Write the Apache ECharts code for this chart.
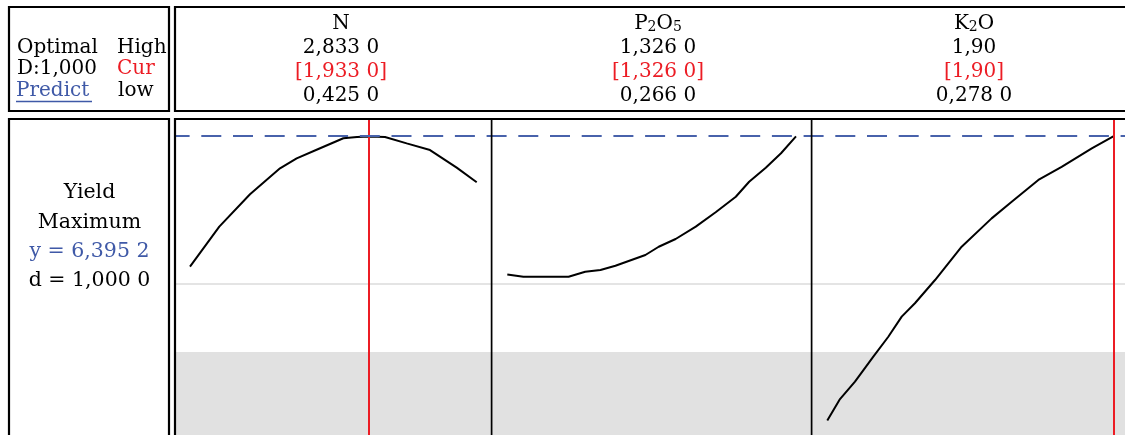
<!DOCTYPE html>
<html>
<head>
<meta charset="utf-8">
<script src="https://cdn.jsdelivr.net/npm/echarts@6/dist/echarts.min.js"></script>
<style>
  html, body { margin: 0; padding: 0; background: #ffffff; }
  #chart { width: 1125px; height: 435px; }
</style>
</head>
<body>
<div id="chart"></div>
<script>
// Factor settings of the response optimizer
const factors = ['N', 'P2O5', 'K2O'];
const lowValues = [0.425, 0.266, 0.278];
const highValues = [2.833, 1.326, 1.90];
const currentValues = [1.933, 1.326, 1.90];
const highLabels = ['2,833 0', '1,326 0', '1,90'];
const currentLabels = ['[1,933 0]', '[1,326 0]', '[1,90]'];
const lowLabels = ['0,425 0', '0,266 0', '0,278 0'];

// Response summary
const predictedYield = 6.3952;
const desirability = 1.0;
const yieldRange = [4.7, 6.5];
const referenceLevel = 5.557;
const shadedTop = 5.171;

// Predicted Yield traced across each factor range
const nCurve = [
  [0.425, 5.656], [0.671, 5.883], [0.929, 6.067], [1.181, 6.214],
  [1.321, 6.271], [1.503, 6.324], [1.713, 6.385], [1.828, 6.392],
  [1.933, 6.3952], [2.063, 6.392], [2.245, 6.356], [2.441, 6.318],
  [2.665, 6.218], [2.833, 6.135]
];
const p2o5Curve = [
  [0.266, 5.612], [0.325, 5.599], [0.491, 5.599], [0.552, 5.627],
  [0.608, 5.637], [0.663, 5.661], [0.773, 5.722], [0.822, 5.769],
  [0.884, 5.813], [0.958, 5.883], [1.031, 5.965], [1.105, 6.053],
  [1.154, 6.138], [1.215, 6.218], [1.271, 6.300], [1.326, 6.3952]
];
const k2oCurve = [
  [0.278, 4.782], [0.350, 4.904], [0.435, 5.003], [0.539, 5.145],
  [0.624, 5.258], [0.700, 5.372], [0.775, 5.448], [0.889, 5.580],
  [1.040, 5.769], [1.210, 5.930], [1.324, 6.025], [1.475, 6.148],
  [1.607, 6.223], [1.778, 6.328], [1.900, 6.3952]
];
const curves = [nCurve, p2o5Curve, k2oCurve];

const BLUE = '#3f59a7';
const RED = '#ec1c24';
const BLACK = '#000000';
const SERIF = '"DejaVu Serif", "Liberation Serif", serif';

// "6,395 2" style: decimal comma, digits grouped by three after it
function fmt(v, decimals) {
  const s = v.toFixed(decimals).replace('.', ',');
  const [intPart, dec] = s.split(',');
  let grouped = dec.slice(0, 3);
  if (dec.length > 3) grouped += ' ' + dec.slice(3);
  return intPart + ',' + grouped;
}

// chemical formula as rich text: digits become subscripts
function formula(name) {
  return name.replace(/(\d+)/g, '{s|$1}').replace(/(^|\})([^{}]+)(?=\{|$)/g, '$1{b|$2}');
}

const chart = echarts.init(document.getElementById('chart'), null, { renderer: 'canvas' });

const panelBoxes = [
  { left: 190, width: 286.7 },
  { left: 507.3, width: 288.7 },
  { left: 827.3, width: 286 }
];
const headerCenters = [341, 658, 974];

const grids = panelBoxes.map(p => ({ left: p.left, width: p.width, top: 118, bottom: 0 }));
grids.push({ left: 175, right: 0, top: 118, bottom: 0 });

const xAxes = panelBoxes.map((p, i) => ({
  type: 'value', gridIndex: i, min: lowValues[i], max: highValues[i], show: false
}));
xAxes.push({ type: 'value', gridIndex: 3, min: 0, max: 1, show: false });

const yAxes = grids.map((g, i) => ({
  type: 'value', gridIndex: i, min: yieldRange[0], max: yieldRange[1], show: false
}));

const series = [
  {
    // shaded band and light reference line behind the panels
    type: 'line', xAxisIndex: 3, yAxisIndex: 3, data: [], z: 0, silent: true,
    markArea: {
      silent: true, z: 0,
      itemStyle: { color: '#e1e1e1' },
      data: [[{ yAxis: yieldRange[0] }, { yAxis: shadedTop }]]
    },
    markLine: {
      silent: true, z: 1, symbol: ['none', 'none'], label: { show: false },
      lineStyle: { color: '#e4e4e4', width: 2, type: 'solid' },
      data: [{ yAxis: referenceLevel }]
    }
  },
  {
    // predicted optimum response
    type: 'line', xAxisIndex: 3, yAxisIndex: 3, data: [], z: 6, silent: true,
    markLine: {
      silent: true, z: 8, symbol: ['none', 'none'], label: { show: false },
      lineStyle: { color: '#4862ab', width: 2.2, type: [20, 11.7], dashOffset: 5.4 },
      data: [{ yAxis: predictedYield }]
    }
  }
];

curves.forEach((data, i) => {
  series.push({
    type: 'line', xAxisIndex: i, yAxisIndex: i, data,
    showSymbol: false, symbol: 'none', smooth: false, z: 3,
    lineStyle: { color: BLACK, width: 2 },
    markLine: {
      silent: true, z: 5, symbol: ['none', 'none'], label: { show: false },
      lineStyle: { color: RED, width: 2, type: 'solid' },
      data: [{ xAxis: currentValues[i] }]
    }
  });
});

function text(x, y, str, color, align, size) {
  return {
    type: 'text', x, y, z: 100, silent: true,
    style: {
      text: str, fill: color, fontSize: size, fontFamily: SERIF,
      align, verticalAlign: 'middle'
    }
  };
}
function box(x, y, w, h, lw) {
  return {
    type: 'rect', z: 100, silent: true,
    shape: { x, y, width: w, height: h },
    style: { fill: null, stroke: BLACK, lineWidth: lw }
  };
}
function vline(x, y1, y2, color, lw) {
  return {
    type: 'line', z: 100, silent: true,
    shape: { x1: x, y1, x2: x, y2 },
    style: { stroke: color, lineWidth: lw }
  };
}

const graphics = [
  box(9, 7, 160, 104, 2.2),
  box(175, 7, 980, 104, 2.2),
  box(9, 119, 160, 400, 2.2),
  box(175, 119, 980, 400, 2.2),
  vline(491.6, 119, 435, BLACK, 1.7),
  vline(811.6, 119, 435, BLACK, 1.7),

  text(17, 48, 'Optimal', BLACK, 'left', 20),
  text(117, 48, 'High', BLACK, 'left', 20),
  text(17, 69, 'D:' + desirability.toFixed(3).replace('.', ','), BLACK, 'left', 20),
  text(117, 69, 'Cur', RED, 'left', 20),
  text(16, 90.5, 'Predict', BLUE, 'left', 20),
  text(118, 90.5, 'low', BLACK, 'left', 20),
  {
    type: 'line', z: 100, silent: true,
    shape: { x1: 16, y1: 101.5, x2: 92, y2: 101.5 },
    style: { stroke: BLUE, lineWidth: 1.6 }
  },

  text(89.5, 193, 'Yield', BLACK, 'center', 20.5),
  text(89.5, 222.5, 'Maximum', BLACK, 'center', 20.5),
  text(89.5, 251.5, 'y = ' + fmt(predictedYield, 4), BLUE, 'center', 20.5),
  text(89.5, 281, 'd = ' + fmt(desirability, 4), BLACK, 'center', 20.5)
];

factors.forEach((name, i) => {
  const cx = headerCenters[i];
  graphics.push({
    type: 'text', x: cx, y: 24, z: 100, silent: true,
    style: {
      text: formula(name), fill: BLACK, fontFamily: SERIF, fontSize: 20,
      align: 'center', verticalAlign: 'middle',
      rich: {
        b: { fontSize: 20, lineHeight: 20, fontFamily: SERIF, fill: BLACK, verticalAlign: 'bottom' },
        s: { fontSize: 14, lineHeight: 14, fontFamily: SERIF, fill: BLACK, verticalAlign: 'bottom' }
      }
    }
  });
  graphics.push(text(cx, 48, highLabels[i], BLACK, 'center', 20));
  graphics.push(text(cx, 72, currentLabels[i], RED, 'center', 20));
  graphics.push(text(cx, 96, lowLabels[i], BLACK, 'center', 20));
});

chart.setOption({
  animation: false,
  backgroundColor: '#ffffff',
  grid: grids,
  xAxis: xAxes,
  yAxis: yAxes,
  series,
  graphic: { elements: graphics }
});
</script>
</body>
</html>
